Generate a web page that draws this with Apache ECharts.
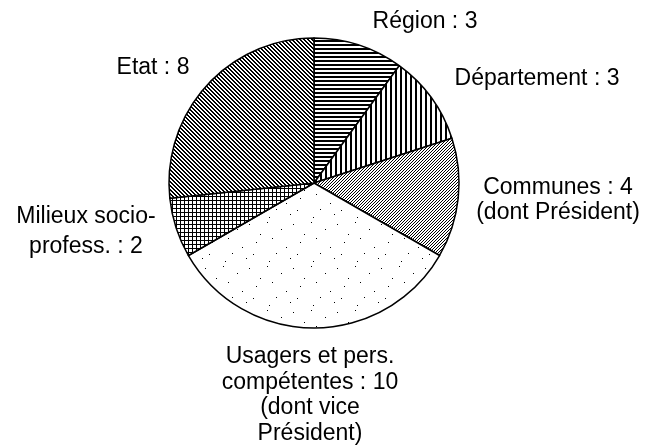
<!DOCTYPE html>
<html>
<head>
<meta charset="utf-8">
<script src="https://cdn.jsdelivr.net/npm/echarts@6/dist/echarts.min.js"></script>
<style>html,body{margin:0;padding:0;background:#fff}#c{width:649px;height:448px}</style>
</head>
<body>
<div id="c"></div>
<script>
// Data
var categories = ['Région', 'Département', 'Communes', 'Usagers et pers.\ncompétentes', 'Milieux socio-\nprofess.', 'Etat'];
var values = [3, 3, 4, 10, 2, 8];
var notes = ['', '', '\n(dont Président)', '\n(dont vice\nPrésident)', '', ''];

// Label anchor positions (layout)
var labelPos = [[425, 22], [537, 79], [558, 200], [310, 395], [86, 232], [153, 68]];
var labelLH = [25, 25, 25, 25.5, 30, 25];

function makeTile(w, h, fn) {
  var c = document.createElement('canvas');
  c.width = w; c.height = h;
  var ctx = c.getContext('2d');
  var img = ctx.createImageData(w, h);
  for (var y = 0; y < h; y++) for (var x = 0; x < w; x++) {
    var v = fn(x, y) ? 0 : 255;
    var i = (y * w + x) * 4;
    img.data[i] = v; img.data[i + 1] = v; img.data[i + 2] = v; img.data[i + 3] = 255;
  }
  ctx.putImageData(img, 0, 0);
  return c;
}
var dotsSet = {'3,2':1,'17,9':1,'29,4':1,'8,18':1,'36,22':1,'22,27':1,'12,33':1,'40,14':1,'26,38':1,'5,41':1,'33,34':1};
var patterns = [
  makeTile(4, 4, function (x, y) { return y % 4 < 2; }),            // horizontal
  makeTile(5, 5, function (x, y) { return x % 5 < 2; }),            // vertical
  makeTile(3, 3, function (x, y) { return (x + y) % 3 === 0; }),    // '/'
  makeTile(44, 44, function (x, y) { return dotsSet[x + ',' + y]; }), // sparse dots
  makeTile(4, 4, function (x, y) { return x % 4 === 0 || y % 4 === 0; }), // grid
  makeTile(4, 4, function (x, y) { return ((x - y) % 4 + 4) % 4 < 2; })   // '\'
];

var data = categories.map(function (n, i) {
  return {
    name: n,
    value: values[i],
    itemStyle: { color: { image: patterns[i], repeat: 'repeat' } },
    label: { lineHeight: labelLH[i] }
  };
});

var chart = echarts.init(document.getElementById('c'), null, { renderer: 'canvas' });
chart.setOption({
  animation: false,
  backgroundColor: '#fff',
  series: [{
    type: 'pie',
    center: [314, 183],
    radius: 145,
    startAngle: 90,
    clockwise: true,
    data: data,
    itemStyle: { borderColor: '#000', borderWidth: 1.5 },
    emphasis: { disabled: true },
    labelLine: { show: false },
    label: {
      show: true,
      position: 'outside',
      color: '#000',
      fontFamily: 'Liberation Sans, Arial, sans-serif',
      fontSize: 23,
      lineHeight: 25,
      align: 'center',
      overflow: 'none',
      formatter: function (p) { return p.name + ' : ' + p.value + notes[p.dataIndex]; }
    },
    labelLayout: function (p) {
      var pos = labelPos[p.dataIndex];
      return { x: pos[0], y: pos[1], align: 'center', verticalAlign: 'middle' };
    }
  }]
});
</script>
</body>
</html>
